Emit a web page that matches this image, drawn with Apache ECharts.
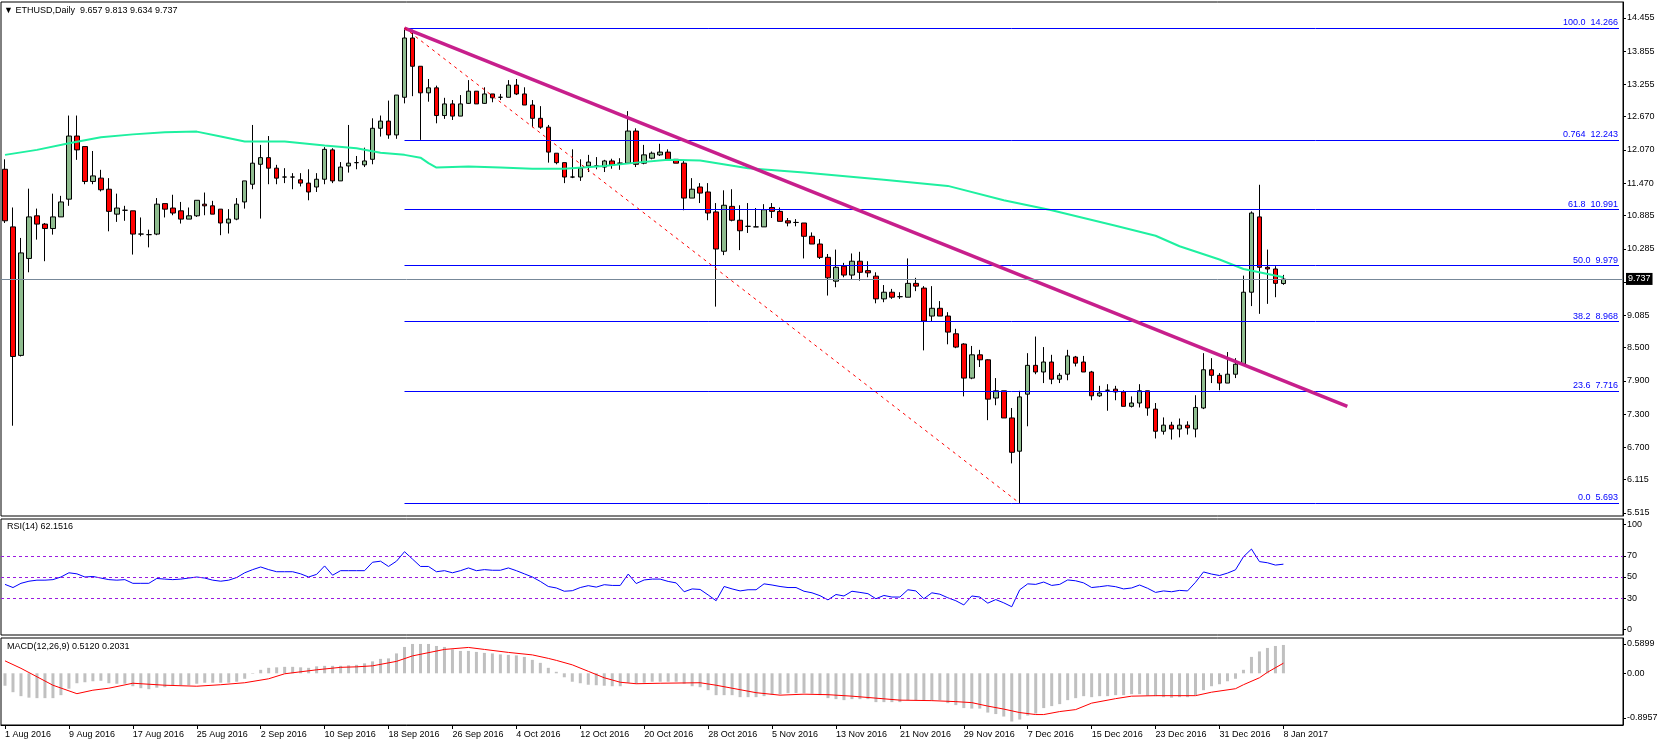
<!DOCTYPE html>
<html>
<head>
<meta charset="utf-8">
<script src="https://cdn.jsdelivr.net/npm/echarts@6/dist/echarts.min.js"></script>
<style>
  html, body { margin: 0; padding: 0; background: #fff; }
  #chart { width: 1663px; height: 746px; }
</style>
</head>
<body>
<div id="chart"></div>
<script>
// daily candles from 1 Aug 2016, rows are [open, high, low, close]
var ohlc = [
  [11.72,11.90,10.75,10.79],[10.68,11.03,7.09,8.34],[8.36,10.48,8.34,10.21],[10.11,11.37,9.86,10.86],
  [10.88,11.01,10.45,10.73],[10.73,10.75,10.06,10.65],[10.65,11.28,10.54,10.86],[10.86,11.24,10.86,11.13],
  [11.18,12.69,11.06,12.32],[12.32,12.69,11.89,12.07],[12.13,12.13,11.45,11.50],[11.50,12.05,11.45,11.60],
  [11.56,11.71,11.32,11.35],[11.36,11.56,10.60,10.96],[10.91,11.28,10.77,11.02],[10.98,11.06,10.79,10.98],
  [10.97,10.97,10.18,10.55],[10.55,10.85,10.51,10.55],[10.54,10.63,10.31,10.54],[10.55,11.20,10.53,11.09],
  [11.10,11.10,10.85,11.00],[11.02,11.26,10.89,10.93],[10.97,11.13,10.74,10.82],[10.82,11.03,10.82,10.88],
  [10.88,11.16,10.86,11.16],[11.09,11.30,10.89,11.06],[11.06,11.15,10.91,10.91],[11.00,11.00,10.53,10.75],
  [10.75,11.00,10.56,10.82],[10.82,11.20,10.80,11.09],[11.13,11.51,11.01,11.51],[11.45,12.52,11.36,11.83],
  [11.81,12.16,10.83,11.93],[11.93,12.32,11.45,11.74],[11.74,11.80,11.45,11.56],[11.58,11.74,11.47,11.58],
  [11.58,11.65,11.36,11.58],[11.53,11.65,11.41,11.47],[11.47,11.72,11.16,11.31],[11.40,11.65,11.31,11.54],
  [11.54,12.12,11.45,12.08],[12.07,12.10,11.47,11.51],[11.51,11.85,11.51,11.76],[11.78,12.52,11.66,11.83],
  [11.84,11.96,11.72,11.84],[11.80,12.11,11.76,11.87],[11.90,12.64,11.81,12.46],[12.46,12.69,12.31,12.59],
  [12.59,12.96,12.27,12.34],[12.34,13.06,12.27,13.06],[13.02,14.27,12.91,14.09],[14.09,14.24,13.04,13.58],
  [13.58,13.58,12.25,13.10],[13.10,13.35,12.94,13.19],[13.19,13.23,12.55,12.69],[12.69,13.01,12.63,12.90],
  [12.90,12.97,12.61,12.68],[12.68,13.06,12.68,12.90],[12.91,13.33,12.90,13.13],[13.13,13.13,12.90,12.90],
  [12.91,13.20,12.90,13.08],[13.08,13.08,12.93,13.01],[13.02,13.08,12.97,13.02],[13.02,13.33,13.02,13.24],
  [13.24,13.35,13.06,13.08],[13.08,13.20,12.88,12.88],[12.88,12.97,12.48,12.64],[12.64,12.86,12.45,12.48],
  [12.48,12.52,11.84,12.03],[12.01,12.01,11.81,11.84],[11.84,11.84,11.47,11.58],[11.58,12.08,11.56,11.58],
  [11.58,11.90,11.51,11.74],[11.78,11.98,11.67,11.85],[11.78,11.94,11.72,11.78],[11.76,11.89,11.67,11.87],
  [11.87,11.91,11.73,11.80],[11.83,11.92,11.71,11.83],[11.83,12.77,11.83,12.41],[12.41,12.46,11.76,11.81],
  [11.83,12.16,11.81,11.98],[11.92,12.04,11.90,12.01],[11.98,12.18,11.96,12.03],[12.03,12.08,11.90,11.90],
  [11.90,11.90,11.83,11.83],[11.83,11.87,10.98,11.20],[11.20,11.56,11.20,11.36],[11.40,11.47,11.11,11.29],
  [11.31,11.47,10.80,10.93],[10.95,11.11,9.24,10.28],[10.24,11.34,10.17,11.07],[11.05,11.36,10.78,10.80],
  [10.80,11.07,10.26,10.61],[10.69,11.11,10.57,10.69],[10.68,11.02,10.68,10.68],[10.68,11.09,10.68,10.99],
  [11.03,11.11,10.84,10.96],[10.96,11.03,10.78,10.78],[10.79,10.84,10.69,10.75],[10.76,10.82,10.69,10.76],
  [10.75,10.75,10.11,10.51],[10.51,10.58,10.37,10.37],[10.37,10.46,10.10,10.13],[10.13,10.19,9.44,9.76],
  [9.70,10.27,9.59,9.95],[9.97,10.03,9.77,9.81],[9.81,10.20,9.73,10.06],[10.06,10.23,9.71,9.86],
  [9.89,10.06,9.77,9.85],[9.79,9.86,9.30,9.38],[9.38,9.63,9.32,9.50],[9.50,9.56,9.38,9.41],
  [9.42,9.50,9.38,9.42],[9.41,10.11,9.41,9.66],[9.66,9.76,9.52,9.61],[9.575,9.61,8.45,8.98],
  [9.07,9.61,8.98,9.21],[9.21,9.34,9.07,9.07],[9.07,9.14,8.56,8.78],[8.75,8.84,8.49,8.51],
  [8.565,8.58,7.62,7.95],[7.95,8.53,7.93,8.37],[8.37,8.46,8.15,8.28],[8.28,8.29,7.19,7.57],
  [7.59,7.95,7.46,7.72],[7.72,7.72,7.23,7.23],[7.23,7.41,6.41,6.61],[6.63,7.72,5.69,7.61],
  [7.66,8.40,7.08,8.18],[8.18,8.70,8.02,8.06],[8.06,8.51,7.86,8.24],[8.24,8.37,7.84,7.93],
  [7.93,8.04,7.86,8.00],[8.02,8.46,7.91,8.35],[8.33,8.35,8.16,8.22],[8.24,8.35,8.06,8.06],
  [8.06,8.08,7.55,7.63],[7.63,7.81,7.61,7.68],[7.73,7.84,7.36,7.73],[7.75,7.81,7.55,7.70],
  [7.70,7.73,7.44,7.44],[7.44,7.62,7.42,7.50],[7.50,7.84,7.42,7.72],[7.72,7.72,7.27,7.41],
  [7.39,7.50,6.86,6.99],[6.99,7.24,6.93,7.10],[7.10,7.16,6.84,7.03],[7.03,7.22,6.88,7.10],
  [7.10,7.17,6.93,7.05],[7.03,7.64,6.88,7.42],[7.41,8.40,7.39,8.10],[8.10,8.31,7.86,8.00],
  [8.00,8.04,7.73,7.86],[7.86,8.42,7.86,8.02],[8.02,8.31,7.95,8.20],[8.20,9.80,8.20,9.50],
  [9.50,10.96,9.25,10.93],[10.86,11.44,9.11,9.95],[9.95,10.27,9.29,9.92],[9.92,9.97,9.41,9.66],
  [9.657,9.813,9.634,9.737]
];

// moving average, read at selected bars
var maIdx = [0,4,8,12,16,20,24,27,30,35,40,44,47,50,52,53,54,58,62,66,70,75,79,83,87,93,100,110,118,125,131,139,144,147,152,155,160];
var maVal = [11.98,12.07,12.19,12.30,12.35,12.39,12.40,12.31,12.22,12.22,12.15,12.10,12.02,11.98,11.93,11.83,11.75,11.77,11.75,11.73,11.73,11.78,11.84,11.89,11.88,11.74,11.66,11.53,11.42,11.16,10.98,10.70,10.52,10.33,10.09,9.92,9.77];

var rsi = [
  43,40,44,46,47,47,47.5,50,54,53,50,50.5,49,47.5,47,47.5,44,44,44,48.6,
  48,47.5,48,49,50,49,47,46,47,49.5,54,57,59.5,57,55,55,55,53,50,52.5,
  60.5,51.7,56,56,56,56,64,65,60,65,74,67,60,60,55,56,54,56,58.6,56,
  57,56.4,56.4,58.6,56,53,50,45.8,41,39.6,36.5,37,40,41.8,40.4,42.7,42,42,52.8,43.8,
  47.2,48,48,45.8,44.4,36,38.7,38.2,33,27.5,41,38.7,36.8,37.9,37.9,43.5,42.4,41,40,40,
  36.5,35,32.3,28.3,33.4,32,36.5,35.4,34.2,29.4,32.5,31,31,37.9,36.8,29.4,35,33.7,30.3,27.5,
  23.5,32,31,25.2,28.6,25.5,21.8,37.9,43.5,43,45.2,42,43,47.2,46.4,44.4,40,40.8,41.8,40.8,
  38.7,39.6,42.4,39.3,35.4,36.8,36,37.3,36.8,45,54.8,52.8,51.4,53.7,56.8,69.2,76.5,64.6,63.5,61.3,
  62.15
];

var macdHist = [
  -0.25,-0.38,-0.46,-0.49,-0.50,-0.50,-0.50,-0.44,-0.31,-0.20,-0.18,-0.16,-0.15,-0.20,-0.21,-0.21,-0.26,-0.30,-0.32,-0.29,
  -0.28,-0.24,-0.24,-0.24,-0.21,-0.19,-0.19,-0.19,-0.19,-0.17,-0.11,-0.01,0.07,0.11,0.12,0.13,0.13,0.12,0.11,0.14,
  0.15,0.15,0.15,0.16,0.17,0.20,0.24,0.29,0.30,0.40,0.53,0.59,0.59,0.59,0.55,0.53,0.48,0.45,0.45,0.43,
  0.41,0.40,0.38,0.37,0.36,0.33,0.27,0.21,0.11,0.03,-0.08,-0.17,-0.20,-0.23,-0.24,-0.25,-0.26,-0.26,-0.19,-0.21,
  -0.19,-0.17,-0.17,-0.17,-0.17,-0.21,-0.26,-0.28,-0.34,-0.44,-0.44,-0.44,-0.48,-0.48,-0.48,-0.46,-0.43,-0.42,-0.40,-0.40,
  -0.40,-0.41,-0.44,-0.50,-0.52,-0.54,-0.52,-0.52,-0.52,-0.58,-0.58,-0.58,-0.58,-0.54,-0.54,-0.54,-0.54,-0.54,-0.60,-0.64,
  -0.70,-0.71,-0.71,-0.79,-0.82,-0.87,-0.97,-0.93,-0.85,-0.81,-0.70,-0.66,-0.62,-0.54,-0.50,-0.46,-0.48,-0.46,-0.46,-0.44,
  -0.44,-0.42,-0.42,-0.45,-0.46,-0.48,-0.49,-0.48,-0.48,-0.44,-0.34,-0.26,-0.22,-0.16,-0.11,0.07,0.33,0.44,0.51,0.55,
  0.57
];

// signal line, read at selected bars
var sigIdx = [0,2,4,6,9,11,13,16,20,24,27,30,33,35,39,42,44,46,49,51,55,58,60,63,66,68,69,71,73,75,77,79,82,87,89,92,94,97,100,103,106,109,112,116,119,121,123,125,127,129,130,132,134,136,139,141,144,149,151,154,155,157,158,160];
var sigVal = [0.25,0.10,-0.07,-0.24,-0.41,-0.34,-0.30,-0.20,-0.24,-0.26,-0.23,-0.19,-0.11,-0.01,0.07,0.12,0.13,0.15,0.24,0.35,0.48,0.52,0.48,0.42,0.37,0.30,0.26,0.17,0.04,-0.09,-0.18,-0.21,-0.20,-0.19,-0.24,-0.33,-0.39,-0.44,-0.42,-0.43,-0.46,-0.50,-0.54,-0.55,-0.57,-0.59,-0.66,-0.72,-0.79,-0.83,-0.83,-0.77,-0.73,-0.60,-0.51,-0.46,-0.45,-0.45,-0.38,-0.31,-0.23,-0.09,0.02,0.2031];

var fibLevels = [14.266, 12.243, 10.991, 9.979, 8.968, 7.716, 5.693];
var fibNames = ['100.0', '0.764', '61.8', '50.0', '38.2', '23.6', '0.0'];
var priceTicks = [14.455, 13.855, 13.255, 12.670, 12.070, 11.470, 10.885, 10.285, 9.685, 9.085, 8.500, 7.900, 7.300, 6.700, 6.115, 5.515];
var rsiTicks = [100, 70, 50, 30, 0];
var macdTicks = [0.5899, 0, -0.8957];
var dateLabels = ['1 Aug 2016','9 Aug 2016','17 Aug 2016','25 Aug 2016','2 Sep 2016','10 Sep 2016','18 Sep 2016',
  '26 Sep 2016','4 Oct 2016','12 Oct 2016','20 Oct 2016','28 Oct 2016','5 Nov 2016','13 Nov 2016','21 Nov 2016',
  '29 Nov 2016','7 Dec 2016','15 Dec 2016','23 Dec 2016','31 Dec 2016','8 Jan 2017'];
var lastPrice = 9.737;

var nSlots = 203;
var cats = [];
for (var i = 0; i < nSlots; i++) cats.push(i);

function sparse(idx, val) {
  var out = [];
  for (var k = 0; k < idx.length; k++) out.push([idx[k], val[k]]);
  return out;
}

var FONT = 'Liberation Sans';
var isTick = function (i) { return i % 8 === 0 && i <= 160; };

var chart = echarts.init(document.getElementById('chart'));

var fibLines = fibLevels.map(function (v, k) {
  return [
    { coord: [50, v], lineStyle: { color: '#0000ff', width: 1, type: 'solid' },
      label: { show: true, position: 'insideEndTop', distance: 1, formatter: fibNames[k] + '  ' + v.toFixed(3),
               color: '#0000ff', fontFamily: FONT, fontSize: 9 } },
    { coord: [nSlots - 1, v] }
  ];
});

var option = {
  animation: false,
  backgroundColor: '#fff',
  grid: [
    { left: 1, right: 40, top: 2, height: 514, show: true, borderColor: '#000', borderWidth: 1 },
    { left: 1, right: 40, top: 519, height: 116, show: true, borderColor: '#000', borderWidth: 1 },
    { left: 1, right: 40, top: 638, height: 87, show: true, borderColor: '#000', borderWidth: 1 }
  ],
  xAxis: [0, 1, 2].map(function (g) {
    return {
      type: 'category', gridIndex: g, data: cats, boundaryGap: true,
      axisLine: { show: g === 2, onZero: false, lineStyle: { color: '#000' } },
      axisTick: { show: g === 2, alignWithLabel: true, interval: function (i) { return isTick(i); }, length: 4, lineStyle: { color: '#000' } },
      axisLabel: g === 2 ? {
        show: true, interval: function (i) { return isTick(i); }, align: 'left', margin: 5,
        fontFamily: FONT, fontSize: 9, color: '#000',
        formatter: function (v) { return dateLabels[v / 8]; }
      } : { show: false },
      splitLine: { show: false }
    };
  }),
  yAxis: [
    { type: 'value', gridIndex: 0, position: 'right', min: 5.46, max: 14.74,
      axisLine: { show: true, lineStyle: { color: '#000' } },
      axisTick: { show: true, customValues: priceTicks, length: 3, lineStyle: { color: '#000' } },
      axisLabel: { customValues: priceTicks, margin: 4, fontFamily: FONT, fontSize: 9, color: '#000',
                   formatter: function (v) { return v.toFixed(3); } },
      splitLine: { show: false } },
    { type: 'value', gridIndex: 1, position: 'right', min: -5, max: 105,
      axisLine: { show: true, lineStyle: { color: '#000' } },
      axisTick: { show: true, customValues: rsiTicks, length: 3, lineStyle: { color: '#000' } },
      axisLabel: { customValues: rsiTicks, margin: 4, fontFamily: FONT, fontSize: 9, color: '#000' },
      splitLine: { show: false } },
    { type: 'value', gridIndex: 2, position: 'right', min: -1.04, max: 0.71,
      axisLine: { show: true, lineStyle: { color: '#000' } },
      axisTick: { show: true, customValues: macdTicks, length: 3, lineStyle: { color: '#000' } },
      axisLabel: { customValues: macdTicks, margin: 4, fontFamily: FONT, fontSize: 9, color: '#000',
                   formatter: function (v) { return v === 0 ? '0.00' : v.toFixed(4); } },
      splitLine: { show: false } }
  ],
  series: [
    { type: 'candlestick', xAxisIndex: 0, yAxisIndex: 0, barWidth: 5,
      data: ohlc.map(function (r) { return [r[0], r[3], r[2], r[1]]; }),
      itemStyle: { color: '#8fbc8f', color0: '#ff0000', borderColor: '#000', borderColor0: '#000', borderWidth: 1 },
      markLine: {
        silent: true, symbol: ['none', 'none'],
        data: fibLines.concat([
          [ { coord: [50, 14.27], lineStyle: { color: '#c71f8c', width: 3.5, type: 'solid' }, label: { show: false } },
            { coord: [168, 7.44] } ],
          [ { coord: [50, 14.27], lineStyle: { color: '#ff0000', width: 1, type: [3, 4] }, label: { show: false } },
            { coord: [127, 5.69] } ],
          { yAxis: lastPrice, lineStyle: { color: '#778899', width: 1, type: 'solid' },
            label: { show: true, position: 'end', distance: 3, formatter: '9.737', color: '#fff', backgroundColor: '#000',
                     padding: [2, 2, 1, 2], fontFamily: FONT, fontSize: 9 } }
        ])
      }
    },
    { type: 'line', xAxisIndex: 0, yAxisIndex: 0, data: sparse(maIdx, maVal), showSymbol: false,
      lineStyle: { color: '#1ef0a0', width: 2 }, z: 3 },
    { type: 'line', xAxisIndex: 1, yAxisIndex: 1, data: rsi, showSymbol: false,
      lineStyle: { color: '#0000ff', width: 1 },
      markLine: { silent: true, symbol: ['none', 'none'], label: { show: false },
        lineStyle: { color: '#9a1ce0', width: 1, type: [3, 3] },
        data: [{ yAxis: 70 }, { yAxis: 50 }, { yAxis: 30 }] } },
    { type: 'bar', xAxisIndex: 2, yAxisIndex: 2, data: macdHist, barWidth: 3,
      itemStyle: { color: '#c0c0c0' } },
    { type: 'line', xAxisIndex: 2, yAxisIndex: 2, data: sparse(sigIdx, sigVal), showSymbol: false,
      lineStyle: { color: '#ff0000', width: 1 } }
  ],
  graphic: [
    { type: 'text', left: 4, top: 6, style: { text: '▼ ETHUSD,Daily  9.657 9.813 9.634 9.737', font: '9px "' + FONT + '"', fill: '#000' } },
    { type: 'text', left: 7, top: 522, style: { text: 'RSI(14) 62.1516', font: '9px "' + FONT + '"', fill: '#000' } },
    { type: 'text', left: 7, top: 642, style: { text: 'MACD(12,26,9) 0.5120 0.2031', font: '9px "' + FONT + '"', fill: '#000' } }
  ]
};

chart.setOption(option);
</script>
</body>
</html>
